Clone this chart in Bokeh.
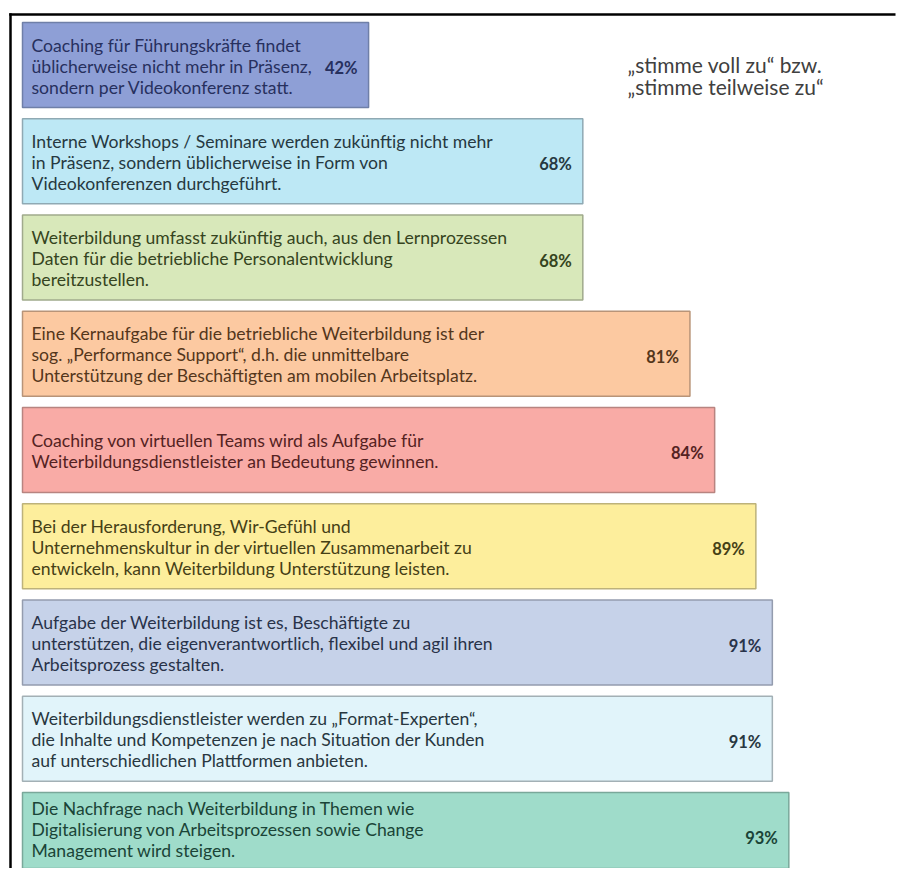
from bokeh.plotting import figure
from bokeh.models import Range1d, ColumnDataSource, Label
from bokeh.embed import file_html
from bokeh.resources import INLINE
from bokeh.core.properties import value

# ---------------- data ----------------
statements = [
    "Coaching für Führungskräfte findet\nüblicherweise nicht mehr in Präsenz,\nsondern per Videokonferenz statt.",
    "Interne Workshops / Seminare werden zukünftig nicht mehr\nin Präsenz, sondern üblicherweise in Form von\nVideokonferenzen durchgeführt.",
    "Weiterbildung umfasst zukünftig auch, aus den Lernprozessen\nDaten für die betriebliche Personalentwicklung\nbereitzustellen.",
    "Eine Kernaufgabe für die betriebliche Weiterbildung ist der\nsog. „Performance Support“, d.h. die unmittelbare\nUnterstützung der Beschäftigten am mobilen Arbeitsplatz.",
    "Coaching von virtuellen Teams wird als Aufgabe für\nWeiterbildungsdienstleister an Bedeutung gewinnen.",
    "Bei der Herausforderung, Wir-Gefühl und\nUnternehmenskultur in der virtuellen Zusammenarbeit zu\nentwickeln, kann Weiterbildung Unterstützung leisten.",
    "Aufgabe der Weiterbildung ist es, Beschäftigte zu\nunterstützen, die eigenverantwortlich, flexibel und agil ihren\nArbeitsprozess gestalten.",
    "Weiterbildungsdienstleister werden zu „Format-Experten“,\ndie Inhalte und Kompetenzen je nach Situation der Kunden\nauf unterschiedlichen Plattformen anbieten.",
    "Die Nachfrage nach Weiterbildung in Themen wie\nDigitalisierung von Arbeitsprozessen  sowie Change\nManagement wird steigen.",
]
percent = [42, 68, 68, 81, 84, 89, 91, 91, 93]
fill_colors = ["#8E9FD6", "#BDE8F5", "#D8E8BA", "#FCC9A1", "#F9ABA6",
               "#FDEE9C", "#C6D2E9", "#E1F4FA", "#9FDCCA"]
line_colors = ["#6F7FA8", "#8FA9B3", "#A0AA8C", "#B89478", "#B88480",
               "#BDB27A", "#949CAE", "#A3B0B5", "#7AA89A"]
text_colors = ["#27305E", "#263941", "#354420", "#54361B", "#542222",
               "#454016", "#29334A", "#283740", "#1A4437"]
note_lines = ["„stimme voll zu“ bzw.", "„stimme teilweise zu“"]

# ---------------- layout ----------------
W, H = 898, 868
PX_X = 8.24      # pixels per percent point
X0 = 22          # canvas pixel of 0 %
PITCH = 96.25    # pixels per bar row
Y0 = 64.5        # canvas pixel of first row centre
LINE_H = 21
FONT = "Lato"


def dx(px):   # canvas pixel -> data x
    return (px - X0) / PX_X


def dy(px):   # canvas pixel -> data y (flipped)
    return (px - Y0) / PITCH


p = figure(width=W, height=H,
           x_range=Range1d(dx(0), dx(W)),
           y_range=Range1d(dy(H), dy(0)),
           x_axis_type=None, y_axis_type=None,
           output_backend="svg", toolbar_location=None,
           min_border=0, outline_line_color=None,
           background_fill_color="white", border_fill_color="white")
p.grid.visible = False

# black frame lines along the top and left edge (thin filled bands)
p.quad(left=[dx(8.75), dx(8.75)], right=[dx(W - 3), dx(11.25)],
       top=[dy(12.75), dy(12.75)], bottom=[dy(15.25), dy(H + 40)],
       fill_color="black", line_color=None)

idx = list(range(len(percent)))
bars = ColumnDataSource(dict(
    y=idx, pct=percent, fill=fill_colors, line=line_colors, tc=text_colors,
    lbl=[f"{v}%" for v in percent],
))
p.hbar(y="y", left=0, right="pct", height=85 / PITCH, source=bars,
       fill_color="fill", line_color="line", line_width=1.5)

# statement text, one row per line (block kept inside the visible canvas)
ty, toff, ttext, tcol = [], [], [], []
for i, s in enumerate(statements):
    parts = s.split("\n")
    n = len(parts)
    centre = Y0 + i * PITCH
    shift = 1.0
    last = centre + shift + (n - 1) / 2 * LINE_H
    if last > H - 18:
        shift -= last - (H - 18)
    for j, t in enumerate(parts):
        ty.append(i)
        toff.append((j - (n - 1) / 2) * LINE_H + shift)
        ttext.append(t)
        tcol.append(text_colors[i])
txt = ColumnDataSource(dict(y=ty, off=toff, text=ttext, col=tcol))
p.text(x=0, y="y", text="text", source=txt, x_offset=9, y_offset="off",
       text_font=value(FONT), text_font_size="17.6px", text_color="col",
       text_baseline="middle", text_align="left")

# value labels
p.text(x="pct", y="y", text="lbl", source=bars, x_offset=-11, y_offset=3,
       text_font=value(FONT), text_font_size="16.5px", text_font_style="bold",
       text_color="tc", text_baseline="middle", text_align="right")

# note in top right
for k, t in enumerate(note_lines):
    p.add_layout(Label(x=627, y=H - 64 - k * 21.5, x_units="screen", y_units="screen",
                       text=t, text_font=FONT, text_font_size="21px",
                       text_color="#404040", text_baseline="middle", text_align="left"))

open("out.html", "w").write(file_html(p, INLINE))
